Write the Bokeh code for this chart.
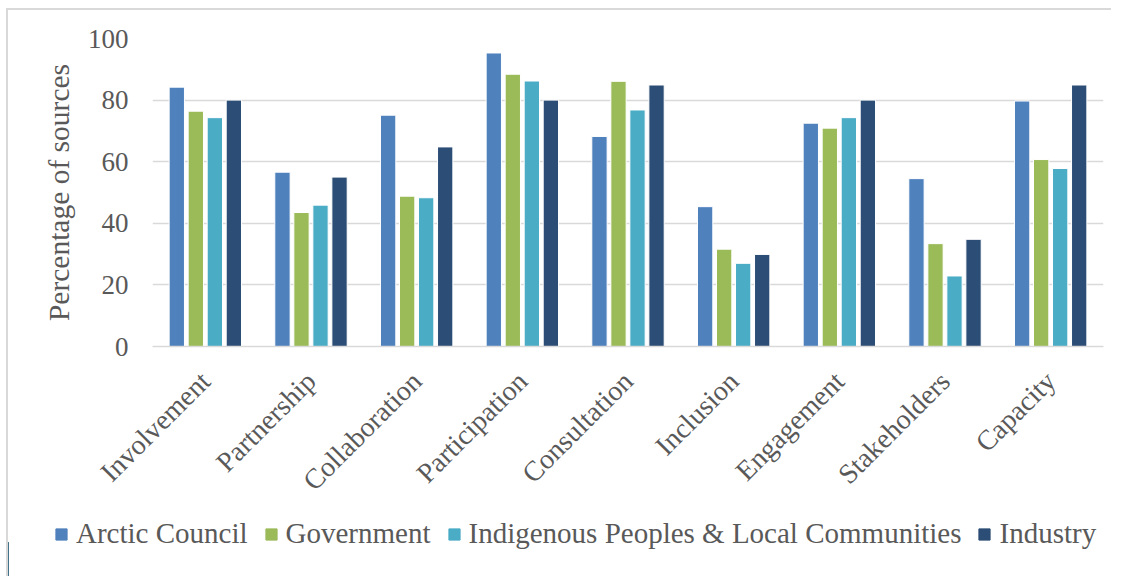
import math
from bokeh.plotting import figure
from bokeh.models import ColumnDataSource, FactorRange, Range1d, Legend, LegendItem
from bokeh.transform import dodge
from bokeh.embed import file_html
from bokeh.resources import INLINE

categories = ["Involvement", "Partnership", "Collaboration", "Participation",
              "Consultation", "Inclusion", "Engagement", "Stakeholders", "Capacity"]
series_names = ["Arctic Council", "Government",
                "Indigenous Peoples & Local Communities", "Industry"]
arctic_council = [84.2, 56.6, 75.1, 95.3, 68.2, 45.4, 72.5, 54.5, 79.7]
government = [76.4, 43.5, 48.8, 88.4, 86.1, 31.6, 70.9, 33.4, 60.7]
indigenous = [74.3, 45.9, 48.3, 86.2, 76.8, 27.0, 74.3, 22.9, 57.8]
industry = [80.0, 55.0, 64.8, 80.0, 84.9, 29.9, 80.0, 34.8, 84.9]
y_ticks = [0, 20, 40, 60, 80, 100]

colors = ["#4F81BD", "#9BBB59", "#4BACC6", "#2C4D75"]
offsets = [-0.27, -0.09, 0.09, 0.27]
keys = ["ac", "gov", "ip", "ind"]

source = ColumnDataSource(dict(cat=categories, ac=arctic_council, gov=government,
                               ip=indigenous, ind=industry))

TEXT = "#595959"
FONT = "Liberation Serif"
BORDER = "2px solid #D9D9D9"

p = figure(x_range=FactorRange(*categories), y_range=Range1d(0, 100),
           width=1105, height=500, output_backend="svg", toolbar_location=None,
           min_border_left=144, min_border_top=28, min_border_right=10,
           min_border_bottom=160)
p.styles = {"border-top": BORDER, "border-left": BORDER,
            "margin-left": "6px", "margin-top": "8px"}
p.outline_line_color = None
p.background_fill_color = "white"
p.border_fill_color = "white"

for k, c, off in zip(keys, colors, offsets):
    p.vbar(x=dodge("cat", off, range=p.x_range), top=k, width=0.145,
           source=source, fill_color=c, line_color="white", line_width=1)

p.xgrid.grid_line_color = None
p.ygrid.grid_line_color = "#D9D9D9"
p.ygrid.grid_line_width = 1.5
p.yaxis.ticker = y_ticks
p.yaxis.axis_line_color = None
p.yaxis.major_tick_line_color = None
p.yaxis.major_tick_out = 0
p.yaxis.major_tick_in = 0
p.yaxis.minor_tick_line_color = None
p.yaxis.major_label_standoff = 24
p.yaxis.major_label_text_font = FONT
p.yaxis.major_label_text_font_size = "27px"
p.yaxis.major_label_text_color = TEXT
p.yaxis.axis_label = "Percentage of sources"
p.yaxis.axis_label_text_font = FONT
p.yaxis.axis_label_text_font_size = "29.5px"
p.yaxis.axis_label_text_font_style = "normal"
p.yaxis.axis_label_text_color = TEXT
p.yaxis.axis_label_standoff = 10

p.xaxis.axis_line_color = "#D9D9D9"
p.xaxis.axis_line_width = 1.5
p.xaxis.major_tick_line_color = None
p.xaxis.major_tick_out = 0
p.xaxis.major_tick_in = 0
p.xaxis.minor_tick_line_color = None
p.xaxis.major_label_orientation = math.pi / 4
p.xaxis.major_label_standoff = 30
p.xaxis.major_label_text_font = FONT
p.xaxis.major_label_text_font_size = "28px"
p.xaxis.major_label_text_color = TEXT

# legend strip: its own root so that its frame spans the full width
q = figure(x_range=Range1d(0, 1), y_range=Range1d(0, 1), width=1105, height=68,
           output_backend="svg", toolbar_location=None, x_axis_type=None,
           y_axis_type=None, min_border=0)
q.styles = {"border-left": BORDER, "margin-left": "6px"}
q.outline_line_color = None
q.grid.grid_line_color = None
q.border_fill_color = "white"
q.background_fill_color = "white"
dummy = []
for c in colors:
    dummy.append(q.vbar(x=[-5], top=[0.5], width=0.1, fill_color=c,
                        line_color=c, line_width=1))

legend = Legend(items=[LegendItem(label=n, renderers=[r]) for n, r in zip(series_names, dummy)],
                orientation="horizontal", location=(46, 26))
legend.label_text_font = FONT
legend.label_text_font_size = "29px"
legend.label_text_color = TEXT
legend.glyph_width = 14
legend.glyph_height = 14
legend.label_standoff = 8
legend.spacing = 16
legend.padding = 0
legend.margin = 0
legend.border_line_color = None
legend.background_fill_alpha = 0
q.add_layout(legend, "center")

open("out.html", "w").write(file_html([p, q], INLINE))
